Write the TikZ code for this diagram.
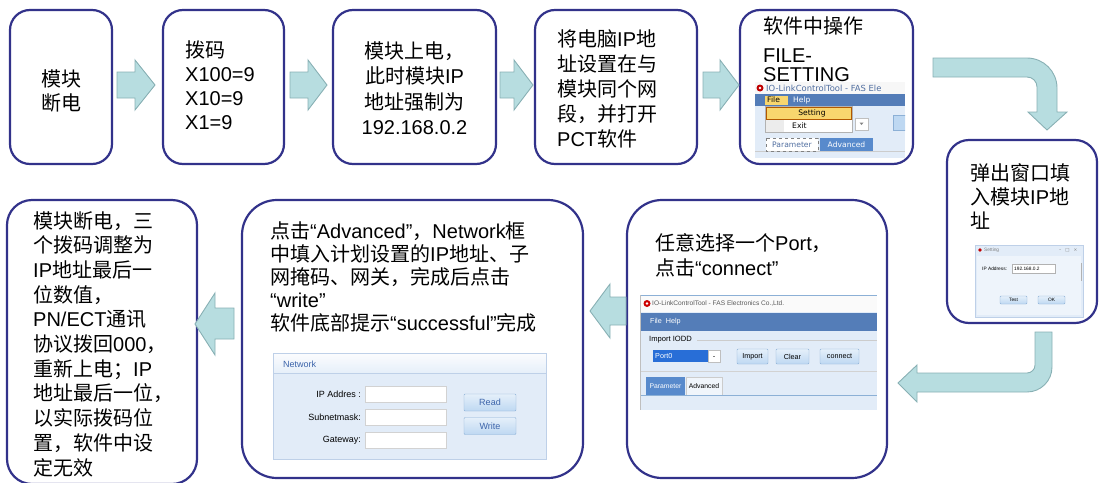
\documentclass[tikz,border=0pt]{standalone}
\usepackage{fontspec}
\setmainfont{Liberation Sans}
\newfontfamily\cjk{Noto Sans CJK SC}
\newfontfamily\dvs{DejaVu Sans}
\newcommand\zh[1]{{\cjk #1}}
\definecolor{boxc}{RGB}{50,50,138}
\definecolor{arrf}{RGB}{183,221,224}
\definecolor{arrd}{RGB}{136,176,180}
\definecolor{menub}{RGB}{84,125,184}
\definecolor{shotbg}{RGB}{226,236,248}
\definecolor{shotbd}{RGB}{190,208,232}
\definecolor{btnf}{RGB}{190,216,242}
\definecolor{btnd}{RGB}{140,176,214}
\definecolor{tabb}{RGB}{88,138,204}
\definecolor{selb}{RGB}{40,110,215}
\definecolor{hiy}{RGB}{248,214,110}
\definecolor{netc}{RGB}{60,100,170}
\definecolor{titc}{RGB}{80,110,160}
\begin{document}
\begin{tikzpicture}[x=1pt,y=1pt,
 stepbox/.style={draw=boxc, line width=2.2pt, rounded corners=20pt, inner sep=0pt},
 txt/.style={anchor=north west, inner sep=0pt, align=left, font=\fontsize{20}{24}\selectfont},
 barrow/.style={fill=arrf, draw=arrd, line width=0.9pt, line join=miter},
 lbl/.style={anchor=west, inner sep=0pt},
 btn/.style={draw=btnd, top color=white!60!btnf, bottom color=btnf, inner sep=0pt, rounded corners=1pt},
 tiny/.style={font=\fontsize{4.8}{5}\selectfont},
 small/.style={font=\fontsize{7.2}{8}\selectfont},
 mid/.style={font=\fontsize{9}{10}\selectfont},
 dv/.style={font=\dvs\fontsize{7.6}{8}\selectfont},
]
\useasboundingbox (0,0) rectangle (1102,-482);

% ---------- boxes ----------
\node[stepbox, minimum width=102pt, minimum height=154pt] (b1) at (61,-87) {};
\node[stepbox, minimum width=121pt, minimum height=154pt] (b2) at (223.5,-87) {};
\node[stepbox, minimum width=163pt, minimum height=154pt] (b3) at (414.5,-87) {};
\node[stepbox, minimum width=162pt, minimum height=154pt] (b4) at (616,-87) {};
\node[stepbox, minimum width=173pt, minimum height=154pt] (b5) at (826.5,-87) {};
\node[stepbox, rounded corners=22pt, minimum width=150pt, minimum height=183pt] (b6) at (1022,-231.5) {};
\node[stepbox, rounded corners=35pt, minimum width=260pt, minimum height=278pt] (b7) at (757,-339) {};
\node[stepbox, rounded corners=35pt, minimum width=341pt, minimum height=278pt] (b8) at (412.5,-339) {};
\node[stepbox, rounded corners=25pt, minimum width=190pt, minimum height=284pt] (b9) at (102,-342) {};

% ---------- texts ----------
\node[txt, anchor=north, align=center] (t1) at (61,-69) {\zh{模块}\\\zh{断电}};
\node[txt] (t2) at (185,-41) {\zh{拨码}\\X100=9\\X10=9\\X1=9};
\node[txt, anchor=north, align=center, font=\fontsize{20}{25.5}\selectfont] (t3) at (414.5,-41)
  {\zh{模块上电，}\\\zh{此时模块}IP\\\zh{地址强制为}\\192.168.0.2};
\node[txt, font=\fontsize{20}{25}\selectfont] (t4) at (557,-29)
  {\zh{将电脑}IP\zh{地}\\\zh{址设置在与}\\\zh{模块同个网}\\\zh{段，并打开}\\PCT\zh{软件}};
\node[txt, font=\fontsize{20}{22}\selectfont] (t5) at (763,-16) {\zh{软件中操作}\\[7pt]FILE-\\[-3pt]SETTING};
\node[txt, font=\fontsize{20}{24}\selectfont] (t6) at (970,-163) {\zh{弹出窗口填}\\\zh{入模块}IP\zh{地}\\\zh{址}};
\node[txt, font=\fontsize{20}{25}\selectfont] (t7) at (655,-233) {\zh{任意选择一个}Port\zh{，}\\\zh{点击}“connect”};
\node[txt, font=\fontsize{20}{23}\selectfont] (t8) at (270,-221)
  {\zh{点击}“Advanced”\zh{，}Network\zh{框}\\\zh{中填入计划设置的}IP\zh{地址、子}\\\zh{网掩码、网关，完成后点击}\\“write”\\\zh{软件底部提示}“successful”\zh{完成}};
\node[txt, font=\fontsize{20}{24.7}\selectfont] (t9) at (33,-211)
  {\zh{模块断电，三}\\\zh{个拨码调整为}\\IP\zh{地址最后一}\\\zh{位数值，}\\PN/ECT\zh{通讯}\\\zh{协议拨回}000\zh{，}\\\zh{重新上电；}IP\\\zh{地址最后一位，}\\\zh{以实际拨码位}\\\zh{置，软件中设}\\\zh{定无效}};

% ---------- screenshot in box 5 ----------
\begin{scope}
\clip (755,-82) rectangle (905,-158);
\fill[shotbg] (755,-82) rectangle (905,-158);
\fill[white!94!gray] (755,-82) rectangle (905,-94);
\fill[red!75!black] (760,-88) circle (3.5pt);
\fill[white] (760,-88) circle (1.4pt);
\node[lbl, font=\dvs\fontsize{8.4}{9}\selectfont, text=titc] (s5t) at (766,-88) {IO-LinkControlTool - FAS Ele};
\fill[menub] (755,-94) rectangle (905,-106);
\fill[hiy] (765,-95.5) rectangle (788,-105);
\node[lbl, dv, text=black] (s5f) at (767,-100) {File};
\node[lbl, dv, text=white] (s5h) at (793,-100) {Help};
\draw[gray!60, fill=white, line width=0.5pt] (765,-106) rectangle (852,-132);
\fill[gray!15] (765.5,-106.5) rectangle (784,-131.5);
\draw[orange!70!black, fill=hiy, line width=0.4pt] (766,-107.5) rectangle (851,-119);
\node[dv, inner sep=0pt] (s5s) at (812,-113.2) {Setting};
\node[lbl, dv] (s5e) at (792,-125.5) {Exit};
\draw[gray!50, fill=white, line width=0.4pt] (855,-118) rectangle (868,-130);
\fill[gray] (859.5,-122.5) -- (863.5,-122.5) -- (861.5,-125) -- cycle;
\draw[btnd, fill=btnf, line width=0.4pt] (893,-115) rectangle (912,-130);
\draw[gray!40] (755,-151) -- (905,-151);
\draw[gray, dashed, fill=white, line width=0.5pt] (766,-138) rectangle (818,-151);
\node[dv, inner sep=0pt, text=titc] (s5p) at (792,-144.5) {Parameter};
\fill[tabb] (820,-138) rectangle (873,-151);
\node[dv, inner sep=0pt, text=white] (s5a) at (846.5,-144.5) {Advanced};
\end{scope}

% ---------- screenshot in box 6 ----------
\fill[shotbg] (975,-245) rectangle (1083,-317);
\fill[white!40!shotbg] (977,-256) rectangle (1081,-315);
\draw[shotbd, line width=0.5pt] (975,-245) rectangle (1083,-317);
\fill[red!75!black] (980,-250) circle (1.8pt);
\node[lbl, tiny, text=gray] (s6t) at (984,-250) {Setting};
\node[lbl, text=gray, font=\dvs\fontsize{4.5}{5}\selectfont] (s6w) at (1059,-250) {–\hspace{4pt}□\hspace{4pt}×};
\node[lbl, tiny] (s6ip) at (982,-268.5) {IP Address:};
\node[draw=gray!60, fill=white, line width=0.4pt, minimum width=43pt, minimum height=9pt, inner sep=0pt, anchor=west] (s6f) at (1012,-268.5) {};
\node[lbl, tiny] (s6v) at (1014,-268.5) {192.168.0.2};
\draw[gray!60, line width=0.6pt] (1081.5,-263) -- (1081.5,-281);
\node[btn, minimum width=27pt, minimum height=8pt, tiny] (s6b1) at (1013.5,-300) {Test};
\node[btn, minimum width=27pt, minimum height=8pt, tiny] (s6b2) at (1051.5,-300) {OK};

% ---------- screenshot in box 7 ----------
\begin{scope}
\clip (640,-295) rectangle (877,-410);
\fill[shotbg] (640,-295) rectangle (877,-410);
\fill[white!96!gray] (640,-295) rectangle (877,-312);
\draw[btnd, line width=0.8pt] (640,-295.5) -- (877,-295.5);
\fill[red!80!black] (647,-303.5) circle (3.5pt);
\fill[white] (647,-303.5) circle (1.4pt);
\node[lbl, font=\fontsize{6.6}{7}\selectfont, text=gray!70!black] (s7t) at (652,-303.5) {IO-LinkControlTool - FAS Electronics Co.,Ltd.};
\fill[menub] (640,-313) rectangle (877,-331);
\node[lbl, small, text=white] (s7m) at (650,-322) {File\hspace{4pt}Help};
\node[lbl, font=\fontsize{7.6}{8}\selectfont] (s7i) at (649,-340) {Import IODD};
\draw[gray!40] (697,-340) -- (877,-340);
\fill[selb] (653,-350) rectangle (708,-362);
\node[lbl, small, text=white] (s7p) at (655,-356) {Port0};
\draw[gray!50, fill=white, line width=0.4pt] (708,-350) rectangle (720,-362);
\fill[gray] (713,-355.5) rectangle (715,-357);
\node[btn, minimum width=31pt, minimum height=15pt, small] (s7b1) at (752.5,-356.5) {Import};
\node[btn, minimum width=33pt, minimum height=15pt, small] (s7b2) at (792.5,-356.5) {Clear};
\node[btn, minimum width=39pt, minimum height=15pt, small] (s7b3) at (839.5,-356.5) {connect};
\draw[gray!35] (640,-371) -- (877,-371);
\node[fill=tabb, text=white, inner sep=0pt, minimum width=39pt, minimum height=18pt, font=\fontsize{6.8}{7}\selectfont] (s7tp) at (665.5,-386) {Parameter};
\node[draw=gray!40, fill=white!50!shotbg, inner sep=0pt, minimum width=36pt, minimum height=18pt, font=\fontsize{6.8}{7}\selectfont] (s7ta) at (704,-386) {Advanced};
\draw[btnd] (640,-395) -- (877,-395);
\draw[gray!50] (640.5,-295) -- (640.5,-410);
\end{scope}

% ---------- screenshot in box 8 ----------
\fill[shotbg] (273,-353) rectangle (546,-459);
\shade[top color=white!85!shotbg, bottom color=shotbg!85!white] (273,-353) rectangle (546,-373);
\draw[shotbd, line width=0.8pt] (273,-353) rectangle (546,-459);
\draw[shotbd, line width=0.8pt] (273,-373) -- (546,-373);
\node[lbl, mid, text=netc] (s8h) at (283,-364) {Network};
\node[anchor=east, inner sep=0pt, mid] (s8l1) at (361,-394) {IP Addres :};
\node[anchor=east, inner sep=0pt, mid] (s8l2) at (361,-417) {Subnetmask:};
\node[anchor=east, inner sep=0pt, mid] (s8l3) at (361,-440) {Gateway:};
\node[draw=gray!35, fill=white, minimum width=81pt, minimum height=16pt, inner sep=0pt] (s8f1) at (405.5,-394) {};
\node[draw=gray!35, fill=white, minimum width=81pt, minimum height=16pt, inner sep=0pt] (s8f2) at (405.5,-417) {};
\node[draw=gray!35, fill=white, minimum width=81pt, minimum height=16pt, inner sep=0pt] (s8f3) at (405.5,-440) {};
\node[btn, minimum width=52pt, minimum height=17pt, text=netc, mid] (s8r) at (490,-402.5) {Read};
\node[btn, minimum width=52pt, minimum height=17pt, text=netc, mid] (s8w) at (490,-426) {Write};

% ---------- block arrows ----------
\draw[barrow] (117,-72) -- (135,-72) -- (135,-60) -- (155,-85) -- (135,-110) -- (135,-98) -- (117,-98) -- cycle;
\draw[barrow] (290,-72) -- (308,-72) -- (308,-60) -- (327,-85) -- (308,-110) -- (308,-98) -- (290,-98) -- cycle;
\draw[barrow] (500,-72) -- (514,-72) -- (514,-60) -- (533,-85) -- (514,-110) -- (514,-98) -- (500,-98) -- cycle;
\draw[barrow] (703,-72) -- (720,-72) -- (720,-60) -- (739,-85) -- (720,-110) -- (720,-98) -- (703,-98) -- cycle;
\draw[barrow] (933,-58) -- (1027,-58) arc[start angle=90, end angle=0, radius=30pt] -- (1057,-112) -- (1067,-112) -- (1047,-130) -- (1028,-112) -- (1037,-112) -- (1037,-87) arc[start angle=0, end angle=90, radius=10pt] -- (933,-77) -- cycle;
\draw[barrow] (1052,-332) -- (1052,-367) arc[start angle=0, end angle=-90, radius=25pt] -- (917,-392) -- (917,-402) -- (898,-383) -- (917,-365) -- (917,-373) -- (1027,-373) arc[start angle=-90, end angle=0, radius=8pt] -- (1035,-332) -- cycle;
\draw[barrow] (626,-297) -- (610,-297) -- (610,-284) -- (590,-311) -- (610,-338) -- (610,-325) -- (626,-325) -- cycle;
\draw[barrow] (234,-308) -- (215,-308) -- (215,-293) -- (195,-324) -- (215,-355) -- (215,-339) -- (234,-339) -- cycle;
\end{tikzpicture}
\end{document}
